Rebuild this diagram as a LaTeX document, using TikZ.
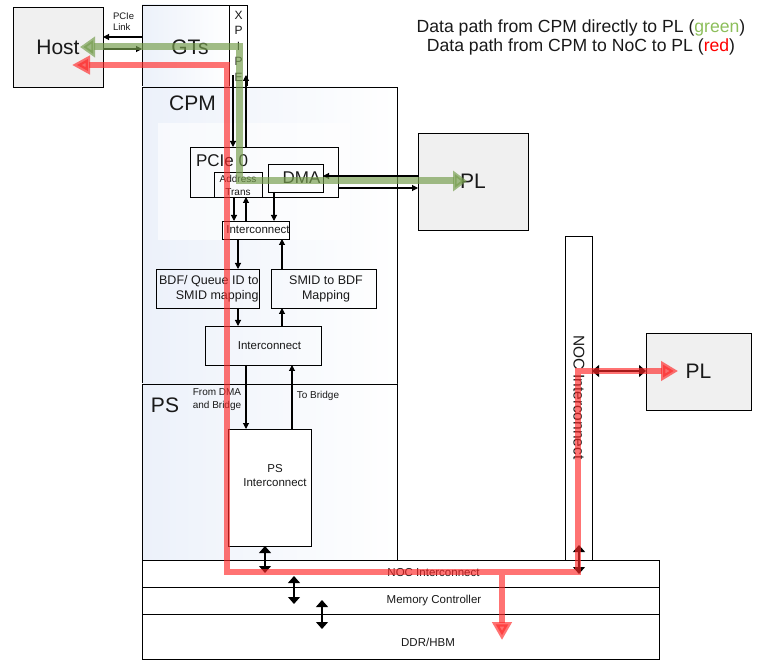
\documentclass[tikz,border=0pt]{standalone}
\usepackage{fontspec}
\setmainfont{Liberation Sans}
\usetikzlibrary{arrows.meta,calc}
\definecolor{boxfill}{RGB}{240,240,240}
\definecolor{shadeblue}{RGB}{236,241,250}
\definecolor{pathgreen}{RGB}{118,158,78}
\definecolor{pathred}{RGB}{255,40,40}
\definecolor{legendgreen}{RGB}{140,190,90}
\definecolor{txt}{RGB}{25,25,25}
\newcommand{\fsz}[1]{\fontsize{#1}{#1}\selectfont}
\begin{document}
\begin{tikzpicture}[x=1pt,y=-1pt,
  box/.style={draw=black, line width=0.8pt, inner sep=0pt, outer sep=0pt, text=txt},
  graybox/.style={box, fill=boxfill},
  shbox/.style={box, left color=shadeblue, right color=white},
  lbl/.style={inner sep=0pt, outer sep=0pt, text=txt},
  arr/.style={line width=1.1pt, -{Triangle[length=6pt,width=6pt]}},
  darr/.style={line width=1.1pt, {Triangle[length=7pt,width=12pt]}-{Triangle[length=7pt,width=12pt]}},
  gpath/.style={line width=7pt, draw=pathgreen, opacity=0.68,
     {Triangle[length=15pt,width=20pt]}-{Triangle[length=14pt,width=20pt]}},
  rpath/.style={line width=6pt, draw=pathred, opacity=0.65},
  rtip/.style={-{Triangle[length=18pt,width=19pt]}},
  rtips/.style={{Triangle[length=18pt,width=18pt]}-{Triangle[length=17pt,width=19pt]}}
]
\useasboundingbox (0,0) rectangle (758,660);

% ---------- large boxes ----------
\node[graybox, minimum width=90pt, minimum height=80pt] (host) at (58,47) {\fsz{21}Host};
\node[shbox, minimum width=87pt, minimum height=82pt] (gts) at (185.5,46) {};
\node[box, fill=white, minimum width=18pt, minimum height=82pt] (xpipe) at (238,46) {};
\node[shbox, minimum width=255pt, minimum height=297pt] (cpm) at (269.5,235.5) {};
\node[shbox, minimum width=255pt, minimum height=176pt] (ps) at (269.5,472) {};
\fill[white, opacity=0.6] (158,123) rectangle (350,240);

% ---------- inner boxes ----------
\node[box, minimum width=148pt, minimum height=50pt] (pcie) at (264,172) {};
\node[box, minimum width=48pt, minimum height=25pt] (addr) at (238,184.5) {};
\node[box, minimum width=55pt, minimum height=28pt] (dma) at (295.5,178) {};
\node[box, fill=white, minimum width=67pt, minimum height=18pt] (ic1) at (255.5,230) {};
\node[box, minimum width=103pt, minimum height=39pt] (bdf) at (207.5,288.5) {};
\node[box, minimum width=105pt, minimum height=39pt] (smid) at (323.5,288.5) {};
\node[box, minimum width=116pt, minimum height=39pt] (ic2) at (263,345.5) {};
\node[box, fill=white, minimum width=83pt, minimum height=117pt] (psic) at (269.5,487.5) {};
\node[box, fill=white, minimum width=517pt, minimum height=27pt] (nocrow) at (400.5,573.5) {};
\node[box, fill=white, minimum width=517pt, minimum height=27pt] (mcrow) at (400.5,600.5) {};
\node[box, fill=white, minimum width=517pt, minimum height=45pt] (ddrrow) at (400.5,636.5) {};
\node[box, fill=white, minimum width=27pt, minimum height=324pt] (nocv) at (578.5,398) {};
\node[graybox, minimum width=110pt, minimum height=97pt] (pl1) at (473,181.5) {\fsz{21}PL};
\node[graybox, minimum width=105pt, minimum height=77pt] (pl2) at (698.5,371.5) {\fsz{21}PL};

% ---------- labels ----------
\node[lbl] (gtstxt) at (190,47) {\fsz{21}GTs};
\node[lbl, align=center, font=\fontsize{12}{15.5}\selectfont] (xpipetxt) at (238.5,46) {X\\P\\I\\P\\E};
\node[lbl, align=left, anchor=west, font=\fontsize{9.5}{11}\selectfont] (linktxt) at (113,22) {PCIe\\Link};
\node[lbl] (cpmtxt) at (192.5,103) {\fsz{21}CPM};
\node[lbl] (pstxt) at (165,405.5) {\fsz{21}PS};
\node[lbl, anchor=west] (pcietxt) at (196,161) {\fsz{17}PCIe 0};
\node[lbl] (dmatxt) at (301.5,178) {\fsz{17}DMA};
\node[lbl, align=center, font=\fontsize{10}{13}\selectfont] (addrtxt) at (238,185) {Address\\Trans};
\node[lbl] (ic1txt) at (258,230) {\fsz{11.5}Interconnect};
\node[lbl, align=right, anchor=east, font=\fontsize{12.5}{15}\selectfont] (bdftxt) at (258.5,289) {BDF/ Queue ID to\\SMID mapping};
\node[lbl, align=center, font=\fontsize{12.5}{15}\selectfont] (smidtxt) at (326,289) {SMID to BDF\\Mapping};
\node[lbl] (ic2txt) at (269.5,346) {\fsz{11.5}Interconnect};
\node[lbl, align=center, font=\fontsize{10}{13}\selectfont] (fromtxt) at (217,399.5) {From DMA\\and Bridge};
\node[lbl] (totxt) at (318,395.5) {\fsz{10}To Bridge};
\node[lbl, align=center, font=\fontsize{11.5}{14}\selectfont] (psictxt) at (275,476) {PS\\Interconnect};
\node[lbl] (noctxt) at (433.5,573) {\fsz{11.5}NOC Interconnect};
\node[lbl] (mctxt) at (434,601) {\fsz{11.5}Memory Controller};
\node[lbl] (ddrtxt) at (428,642) {\fsz{11.5}DDR/HBM};
\node[lbl, rotate=-90] (nocvtxt) at (579,397.5) {\fsz{15.5}NOC Interconnect};
\node[lbl, anchor=base] (leg1) at (581,33) {\fsz{17.6}Data path from CPM directly to PL (\textcolor{legendgreen}{green})};
\node[lbl, anchor=base] (leg2) at (581,52) {\fsz{17.6}Data path from CPM to NoC to PL (\textcolor{red}{red})};

% ---------- lanes ----------
\coordinate (y37) at (0,37);
\coordinate (y49) at (0,49);
\coordinate (y75) at (0,75);
\coordinate (x233) at (233,0);
\coordinate (x246) at (246,0);
\coordinate (x234) at (234,0);
\coordinate (x274) at (274,0);
\coordinate (x238) at (238,0);
\coordinate (x282) at (282,0);
\coordinate (x292) at (292,0);
\coordinate (x265) at (265,0);
\coordinate (x294) at (294,0);
\coordinate (x322) at (322,0);
\coordinate (x579) at (579,0);
\coordinate (y176) at (0,176);
\coordinate (y188) at (0,188);
\coordinate (y371) at (0,371);

% ---------- black connectors ----------
\draw[arr] (gts.west |- y37) -- (host.east |- y37);
\draw[arr] (host.east |- y49) -- (gts.west |- y49);
\draw[arr] (x233 |- y75) -- (x233 |- pcie.north);
\draw[arr] (x246 |- pcie.north) -- (x246 |- y75);
\draw[arr] (x234 |- addr.south) -- (x234 |- ic1.north);
\draw[arr] (x246 |- ic1.north) -- (x246 |- addr.south);
\draw[arr] (x274 |- dma.south) -- (x274 |- ic1.north);
\draw[arr] (x238 |- ic1.south) -- (x238 |- bdf.north);
\draw[arr] (x282 |- smid.north) -- (x282 |- ic1.south);
\draw[arr] (x238 |- bdf.south) -- (x238 |- ic2.north);
\draw[arr] (x282 |- ic2.north) -- (x282 |- smid.south);
\draw[arr] (x246 |- ic2.south) -- (x246 |- psic.north);
\draw[arr] (x292 |- psic.north) -- (x292 |- ic2.south);
\draw[arr] (pl1.west |- y176) -- (dma.east |- y176);
\draw[arr] (pcie.east |- y188) -- (pl1.west |- y188);
\draw[darr] (x265 |- psic.south) -- (x265 |- noctxt.center);
\draw[darr] ($(x294 |- nocrow.center)+(0,2.5)$) -- ($(x294 |- mcrow.center)+(0,3.5)$);
\draw[darr] ($(x322 |- mcrow.center)+(0,-0.5)$) -- ($(x322 |- ddrrow.center)+(0,-7.5)$);
\draw[darr] ($(x579 |- nocv.south)+(0,-15)$) -- ($(x579 |- nocrow.center)+(0,0.5)$);
\draw[darr] (nocv.east |- y371) -- (pl2.west |- y371);

% ---------- data paths ----------
\coordinate (gA) at (80,47);
\coordinate (gB) at (239,47);
\coordinate (gC) at (239,181);
\coordinate (gD) at (467,181);
\draw[gpath] (gA) -- (gB) -- (gC) -- (gD);

\coordinate (rA) at (72,65);
\coordinate (rB) at (227,65);
\coordinate (rC) at (227,572);
\coordinate (rD) at (578,572);
\coordinate (rE) at (578,371);
\coordinate (rF) at (678,371);
\coordinate (rG) at (502,575);
\coordinate (rH) at (502,640);
\draw[rpath, rtips] (rA) -- (rB) -- (rC) -- (rD) -- (rE) -- (rF);
\draw[rpath, rtip] (rG) -- (rH);
\end{tikzpicture}
\end{document}
